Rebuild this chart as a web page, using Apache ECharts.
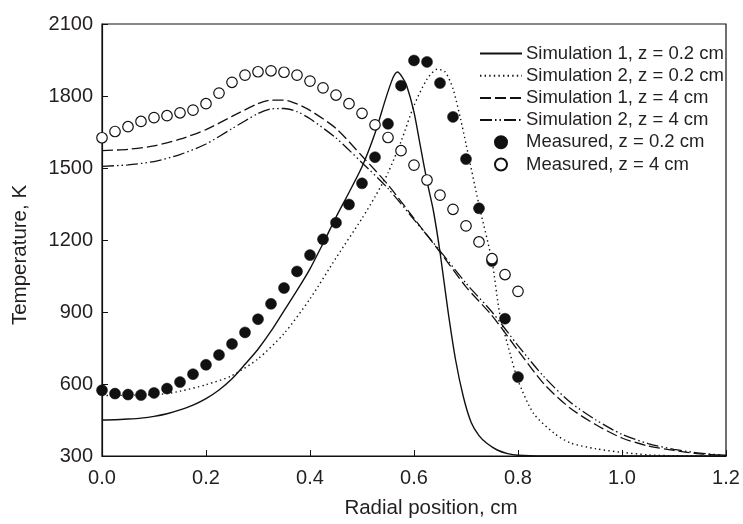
<!DOCTYPE html>
<html>
<head>
<meta charset="utf-8">
<script src="https://cdn.jsdelivr.net/npm/echarts@6/dist/echarts.min.js"></script>
<style>
  html, body { margin: 0; padding: 0; background: #fff; }
  #chart { width: 743px; height: 524px; }
</style>
</head>
<body>
<div id="chart"></div>
<script>
// ---------- data ----------
var xTicks = [0.0, 0.2, 0.4, 0.6, 0.8, 1.0, 1.2];
var yTicks = [300, 600, 900, 1200, 1500, 1800, 2100];

var seriesNames = [
  'Simulation 1, z = 0.2 cm',
  'Simulation 2, z = 0.2 cm',
  'Simulation 1, z = 4 cm',
  'Simulation 2, z = 4 cm',
  'Measured, z = 0.2 cm',
  'Measured, z = 4 cm'
];

// Simulation 1, z = 0.2 cm (solid)
var sim1_02_x = [0, 0.025, 0.05, 0.075, 0.1, 0.125, 0.15, 0.175, 0.2, 0.225, 0.25, 0.275, 0.3, 0.325, 0.35, 0.375, 0.4, 0.425, 0.45, 0.475, 0.5, 0.525, 0.545, 0.557, 0.563, 0.568, 0.577, 0.586, 0.6, 0.612, 0.625, 0.637, 0.65, 0.665, 0.68, 0.695, 0.71, 0.725, 0.74, 0.76, 0.78, 0.8, 0.85, 0.9, 1.0, 1.1, 1.2];
var sim1_02_y = [450, 451, 454, 458, 465, 476, 492, 512, 539, 575, 622, 682, 745, 820, 905, 990, 1080, 1185, 1295, 1398, 1505, 1645, 1785, 1862, 1890, 1900, 1880, 1843, 1733, 1594, 1445, 1325, 1150, 910, 700, 546, 440, 385, 353, 325, 310, 303, 300, 300, 300, 300, 300];

// Simulation 2, z = 0.2 cm (dotted)
var sim2_02_x = [0, 0.05, 0.1, 0.125, 0.15, 0.2, 0.25, 0.3, 0.35, 0.4, 0.45, 0.5, 0.525, 0.55, 0.575, 0.6, 0.625, 0.645, 0.66, 0.675, 0.69, 0.7, 0.725, 0.75, 0.765, 0.785, 0.8, 0.83, 0.87, 0.9, 0.95, 1.0, 1.05, 1.1, 1.2];
var sim2_02_y = [552, 553, 556, 560, 570, 597, 635, 705, 810, 955, 1125, 1290, 1380, 1480, 1610, 1760, 1870, 1912, 1900, 1830, 1700, 1600, 1346, 1112, 891, 725, 615, 477, 394, 355, 330, 315, 305, 301, 300];

// Simulation 1, z = 4 cm (long dash)
var sim1_4_x = [0, 0.05, 0.1, 0.15, 0.2, 0.25, 0.3, 0.325, 0.35, 0.375, 0.4, 0.45, 0.5, 0.55, 0.6, 0.65, 0.7, 0.75, 0.8, 0.85, 0.9, 0.95, 1.0, 1.05, 1.1, 1.15, 1.2];
var sim1_4_y = [1572, 1578, 1592, 1620, 1660, 1715, 1768, 1783, 1783, 1767, 1740, 1665, 1550, 1430, 1290, 1150, 1005, 885, 740, 600, 500, 430, 375, 342, 323, 309, 302];

// Simulation 2, z = 4 cm (dash-dot-dot)
var sim2_4_x = [0, 0.05, 0.1, 0.15, 0.2, 0.25, 0.3, 0.325, 0.35, 0.375, 0.4, 0.45, 0.5, 0.55, 0.6, 0.65, 0.7, 0.75, 0.8, 0.85, 0.9, 0.95, 1.0, 1.05, 1.1, 1.15, 1.2];
var sim2_4_y = [1507, 1513, 1527, 1556, 1600, 1664, 1727, 1746, 1748, 1735, 1705, 1625, 1522, 1415, 1285, 1155, 1020, 900, 760, 630, 525, 450, 390, 352, 328, 312, 303];

// Measured points (x every 0.025 cm)
var measX = [0, 0.025, 0.05, 0.075, 0.1, 0.125, 0.15, 0.175, 0.2, 0.225, 0.25, 0.275, 0.3, 0.325, 0.35, 0.375, 0.4, 0.425, 0.45, 0.475, 0.5, 0.525, 0.55, 0.575, 0.6, 0.625, 0.65, 0.675, 0.7, 0.725, 0.75, 0.775, 0.8];
var meas02 = [574, 560, 556, 554, 563, 581, 608, 641, 680, 721, 767, 815, 870, 934, 1000, 1069, 1137, 1203, 1272, 1348, 1436, 1545, 1684, 1843, 1948, 1942, 1854, 1713, 1537, 1332, 1112, 872, 629];
var meas4 = [1626, 1652, 1672, 1694, 1710, 1718, 1730, 1741, 1768, 1812, 1857, 1887, 1901, 1905, 1899, 1887, 1862, 1834, 1804, 1768, 1728, 1680, 1627, 1572, 1512, 1450, 1387, 1328, 1259, 1192, 1122, 1056, 986];

function zip(xs, ys) { return xs.map(function (x, i) { return [x, ys[i]]; }); }

var FONT = '"Liberation Sans", Arial, Helvetica, sans-serif';
var TXT = '#231f20';

var chart = echarts.init(document.getElementById('chart'), null, { renderer: 'canvas' });

function lineSeries(name, data, type, width) {
  return {
    name: name, type: 'line', data: data, symbol: 'none', smooth: 0.25,
    lineStyle: { color: '#111', width: width || 1.3, type: type, cap: 'butt' },
    itemStyle: { color: '#111' },
    silent: true, animation: false, z: 2
  };
}

var hiddenSym = { color: 'rgba(0,0,0,0)', borderColor: 'rgba(0,0,0,0)', borderWidth: 0, opacity: 0 };

chart.setOption({
  animation: false,
  backgroundColor: '#fff',
  textStyle: { fontFamily: FONT, color: TXT },
  grid: { left: 102, right: 17, top: 24, bottom: 65, show: true, borderColor: '#111', borderWidth: 1.2, containLabel: false },
  legend: {
    data: [
      { name: seriesNames[0], itemStyle: hiddenSym },
      { name: seriesNames[1], itemStyle: hiddenSym },
      { name: seriesNames[2], itemStyle: hiddenSym },
      { name: seriesNames[3], itemStyle: hiddenSym },
      { name: seriesNames[4] },
      { name: seriesNames[5] }
    ],
    orient: 'vertical',
    left: 479, top: 44,
    padding: 0,
    itemWidth: 42, itemHeight: 12, itemGap: 3.2,
    textStyle: { fontFamily: FONT, fontSize: 18.5, color: TXT, lineHeight: 18, padding: [0, 0, 0, -1] },
    selectedMode: false
  },
  xAxis: {
    type: 'value', min: 0, max: 1.2, interval: 0.2,
    name: 'Radial position, cm', nameLocation: 'middle', nameGap: 42,
    nameTextStyle: { fontFamily: FONT, fontSize: 20.5, color: TXT, padding: [0, 0, 0, 34] },
    axisLine: { show: true, lineStyle: { color: '#111', width: 1.2 } },
    axisTick: { show: true, inside: true, length: 6, lineStyle: { color: '#111', width: 1 } },
    axisLabel: { fontFamily: FONT, fontSize: 20, color: TXT, margin: 12, formatter: function (v) { return v.toFixed(1); } },
    splitLine: { show: false }
  },
  yAxis: {
    type: 'value', min: 300, max: 2100, interval: 300,
    name: 'Temperature, K', nameLocation: 'middle', nameGap: 71, nameRotate: 90,
    nameTextStyle: { fontFamily: FONT, fontSize: 20.5, color: TXT, padding: [0, 30, 0, 0] },
    axisLine: { show: true, lineStyle: { color: '#111', width: 1.2 } },
    axisTick: { show: true, inside: true, length: 6, lineStyle: { color: '#111', width: 1 } },
    axisLabel: { fontFamily: FONT, fontSize: 20, color: TXT, margin: 9, formatter: function (v) { return String(v); } },
    splitLine: { show: false }
  },
  series: [
    lineSeries(seriesNames[0], zip(sim1_02_x, sim1_02_y), 'solid', 1.4),
    lineSeries(seriesNames[1], zip(sim2_02_x, sim2_02_y), [1.4, 3.2], 1.4),
    lineSeries(seriesNames[2], zip(sim1_4_x, sim1_4_y), [11, 4], 1.3),
    lineSeries(seriesNames[3], zip(sim2_4_x, sim2_4_y), [12, 3, 1.5, 3, 1.5, 3], 1.3),
    {
      name: seriesNames[4], type: 'scatter', data: zip(measX, meas02),
      symbol: 'circle', symbolSize: 11,
      itemStyle: { color: '#111', borderColor: '#111', borderWidth: 0.5, opacity: 1 },
      silent: true, z: 3
    },
    {
      name: seriesNames[5], type: 'scatter', data: zip(measX, meas4),
      symbol: 'circle', symbolSize: 10.5,
      itemStyle: { color: '#fff', borderColor: '#111', borderWidth: 1.2, opacity: 1 },
      silent: true, z: 4
    }
  ]
});
</script>
</body>
</html>
